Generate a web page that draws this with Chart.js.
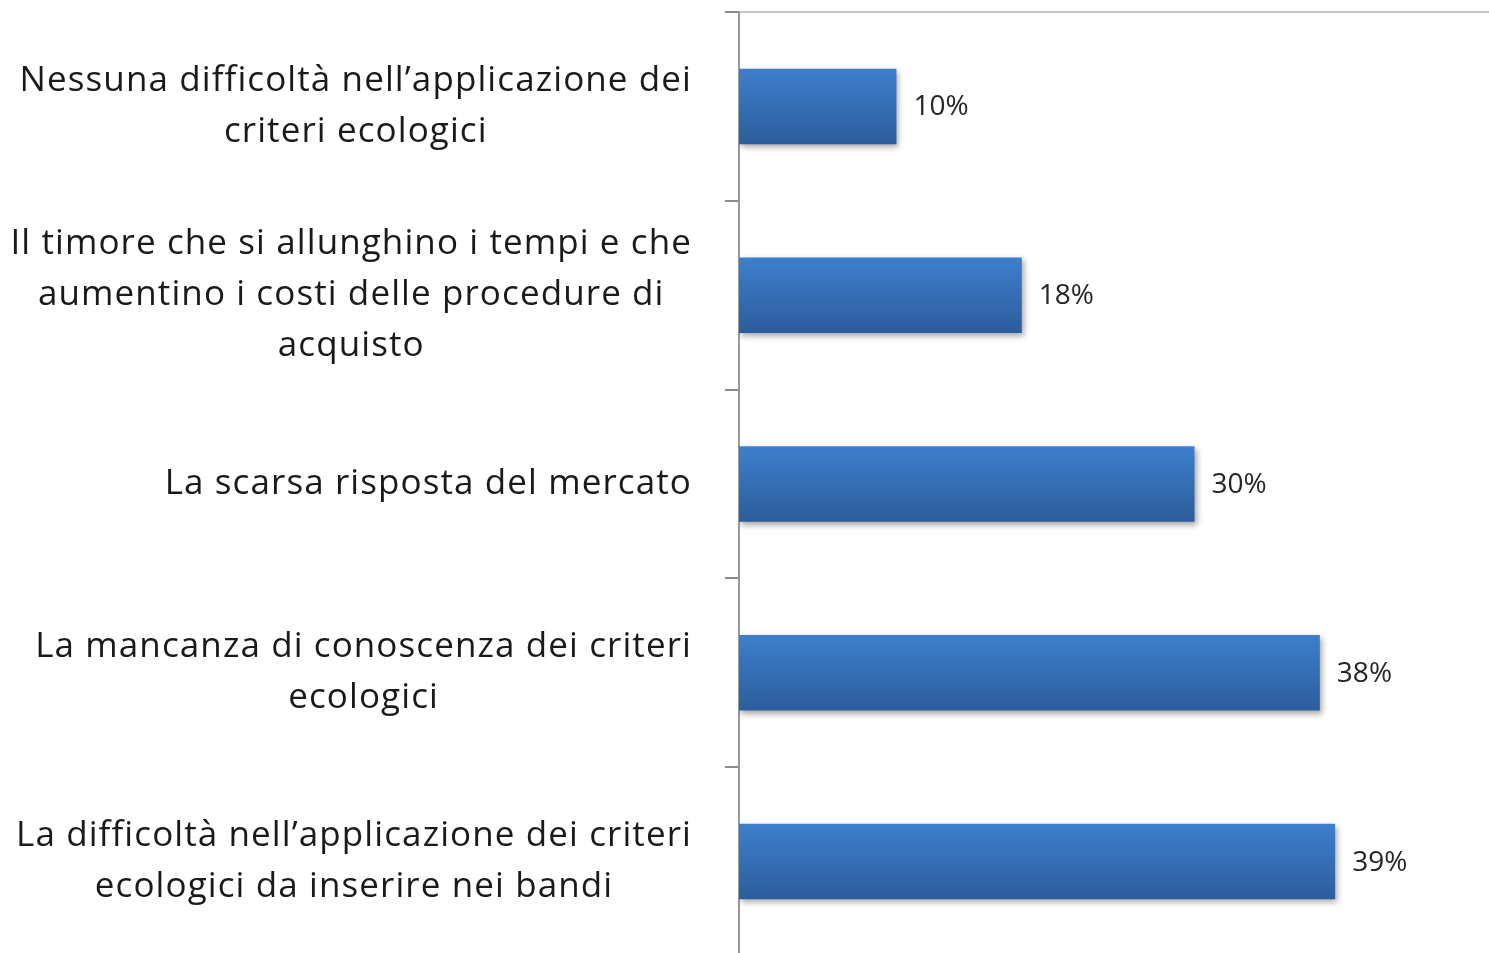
<!DOCTYPE html>
<html>
<head>
<meta charset="utf-8">
<script src="https://cdn.jsdelivr.net/npm/chart.js@4/dist/chart.umd.min.js"></script>
<style>
  html, body { margin: 0; padding: 0; background: #fff; overflow: hidden; }
  #wrap { width: 1489px; height: 958px; }
</style>
</head>
<body>
<div id="wrap"><canvas id="myChart" width="1489" height="958"></canvas></div>
<script>
// categorie (righe multiple come nel grafico originale)
var categories = [
    ["Nessuna difficoltà nell\u2019applicazione dei", "criteri ecologici"],
    ["Il timore che si allunghino i tempi e che", "aumentino i costi delle procedure di", "acquisto"],
    ["La scarsa risposta del mercato"],
    ["La mancanza di conoscenza dei criteri", "ecologici"],
    ["La difficoltà nell\u2019applicazione dei criteri", "ecologici da inserire nei bandi"]
];
var values = [10.3, 18.5, 29.8, 38.0, 39.0];
var valueLabels = ["10%", "18%", "30%", "38%", "39%"];
var xMax = 49;

var LABEL_FONT = "35px 'Open Sans', Lato, sans-serif";
var VALUE_FONT = "28px 'Open Sans', Lato, sans-serif";

// gradiente verticale per ogni barra
function barGradient(context) {
    var chart = context.chart;
    var y = chart.scales.y;
    if (!y || !chart.chartArea) return '#3570b8';
    var c = y.getPixelForValue(context.dataIndex);
    var h = (y.height / categories.length) * 0.4;
    var g = chart.ctx.createLinearGradient(0, c - h / 2, 0, c + h / 2);
    g.addColorStop(0, '#3d7fcd');
    g.addColorStop(1, '#2c5d9c');
    return g;
}

// ombra sotto le barre
var shadowPlugin = {
    id: 'shadow',
    beforeDatasetsDraw: function(chart) {
        var ctx = chart.ctx;
        ctx.save();
        ctx.shadowColor = 'rgba(0,0,0,0.35)';
        ctx.shadowBlur = 6;
        ctx.shadowOffsetX = 2;
        ctx.shadowOffsetY = 3;
    },
    afterDatasetsDraw: function(chart) {
        chart.ctx.restore();
    }
};

// etichette delle categorie (centrate riga per riga, blocco allineato a destra)
var labelPlugin = {
    id: 'catLabels',
    afterDraw: function(chart) {
        var ctx = chart.ctx;
        var y = chart.scales.y;
        var right = chart.chartArea.left - 47;
        var lineH = 51;
        ctx.save();
        ctx.font = LABEL_FONT;
        ctx.letterSpacing = '1.1px';
        ctx.fillStyle = '#1a1a1a';
        ctx.textAlign = 'center';
        ctx.textBaseline = 'middle';
        categories.forEach(function(lines, i) {
            var w = 0;
            lines.forEach(function(l) { w = Math.max(w, ctx.measureText(l).width); });
            var cx = right - w / 2;
            var cy = y.getPixelForValue(i);
            var top = cy - (lines.length - 1) * lineH / 2;
            lines.forEach(function(l, k) {
                ctx.fillText(l, cx, top + k * lineH);
            });
        });

        // valori a destra delle barre
        ctx.font = VALUE_FONT;
        ctx.letterSpacing = '0px';
        ctx.fillStyle = '#262626';
        ctx.textAlign = 'left';
        var meta = chart.getDatasetMeta(0);
        meta.data.forEach(function(bar, i) {
            ctx.fillText(valueLabels[i], bar.x + 17, bar.y + 1);
        });
        ctx.restore();
    }
};

var ctx = document.getElementById('myChart').getContext('2d');
var myChart = new Chart(ctx, {
    type: 'bar',
    data: {
        labels: categories,
        datasets: [{
            data: values,
            backgroundColor: barGradient,
            borderWidth: 0,
            categoryPercentage: 1,
            barPercentage: 0.4
        }]
    },
    options: {
        indexAxis: 'y',
        responsive: false,
        animation: false,
        layout: { padding: { left: 725, top: 4, right: 1, bottom: 2 } },
        plugins: {
            legend: { display: false },
            tooltip: { enabled: false }
        },
        scales: {
            x: {
                position: 'top',
                min: 0,
                max: xMax,
                ticks: { display: false },
                grid: { display: false },
                border: { display: true, color: '#c4c4c4', width: 2 }
            },
            y: {
                ticks: { display: false },
                grid: {
                    display: true,
                    offset: true,
                    drawOnChartArea: false,
                    drawTicks: true,
                    tickLength: 14,
                    color: '#8c8c8c',
                    lineWidth: 2
                },
                border: { display: true, color: '#9a9a9a', width: 2 }
            }
        }
    },
    plugins: [shadowPlugin, labelPlugin]
});
</script>
</body>
</html>
